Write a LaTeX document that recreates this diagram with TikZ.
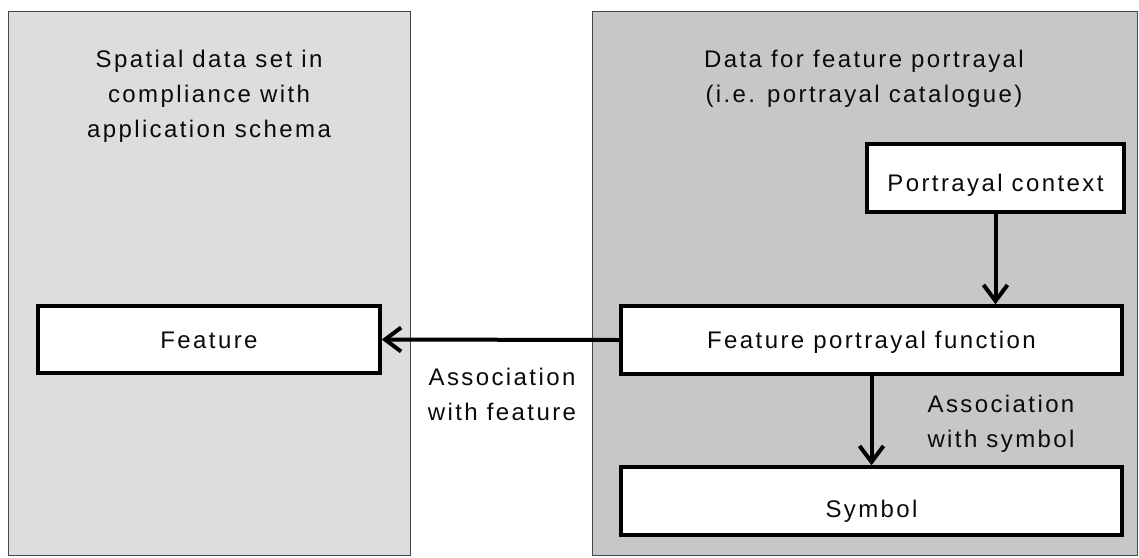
\documentclass[tikz,border=0pt]{standalone}
\usepackage{fontspec}
\setmainfont{Liberation Sans}[LetterSpace=10]
\usetikzlibrary{arrows.meta}
\definecolor{leftbg}{RGB}{220,221,223}
\definecolor{rightbg}{RGB}{198,199,201}
\definecolor{framegray}{RGB}{70,70,70}
\definecolor{ink}{RGB}{10,10,10}
\begin{document}
\begin{tikzpicture}[x=1pt,y=-1pt,
  panel/.style={draw=framegray,line width=1pt},
  itembox/.style={draw=black,fill=white,line width=3.5pt,inner sep=0pt,
    font=\fontsize{24}{35}\selectfont,text=ink,text height=17pt,text depth=0pt},
  lbl/.style={font=\fontsize{24}{35}\selectfont,text=ink,align=center,anchor=base,inner sep=0pt},
  assoc/.style={line width=4pt,-{Straight Barb[length=16pt,width=24pt]}}]
\useasboundingbox (0,0) rectangle (1139,557);
\draw[panel,fill=leftbg] (8,11) rectangle (410,555);
\draw[panel,fill=rightbg] (592,11) rectangle (1137,555);
\node[lbl] (lefttitle) at (209,137) {Spatial data set in\\compliance with\\application schema};
\node[lbl] (righttitle) at (864,102) {Data for feature portrayal\\(i.e. portrayal catalogue)};
\node[itembox,minimum width=342pt,minimum height=67pt] (feature) at (209,339.5) {Feature};
\node[itembox,minimum width=257pt,minimum height=68pt,text height=26pt] (context) at (995.5,178) {Portrayal context};
\node[itembox,minimum width=501pt,minimum height=68pt] (fpf) at (871.5,340) {Feature portrayal function};
\node[itembox,minimum width=501pt,minimum height=68pt,text height=33pt] (symbol) at (871.5,501) {Symbol};
\draw[assoc] (fpf.west) -- (feature.east);
\draw[assoc] (context.south) -- (context.south |- fpf.north);
\draw[assoc] (fpf.south) -- (symbol.north);
\node[lbl] (assocfeature) at (502,420) {Association\\with feature};
\node[lbl] (assocsymbol) at (1001,447) {Association\\with symbol};
\end{tikzpicture}
\end{document}
